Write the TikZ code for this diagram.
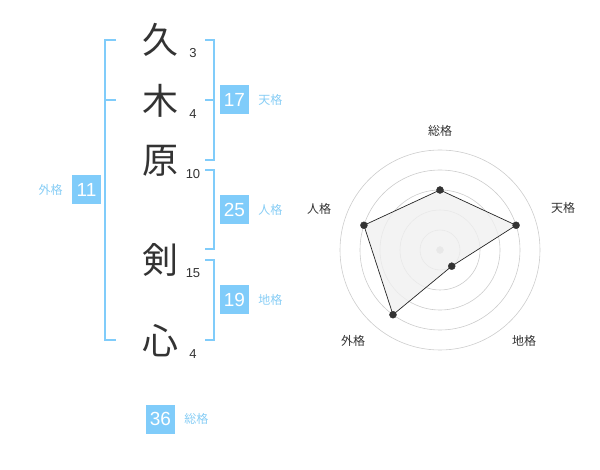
\documentclass[tikz,border=0pt]{standalone}
\usepackage{fontspec}
\setmainfont{Liberation Sans}
\newfontfamily\jpfont{Noto Sans CJK JP}
\usetikzlibrary{calc}
\usetikzlibrary{positioning}
\definecolor{kakublue}{RGB}{128,204,250}
\definecolor{kakutext}{RGB}{135,205,245}
\definecolor{inkgray}{RGB}{51,51,51}
\begin{document}
\begin{tikzpicture}[x=1pt,y=-1pt,
    kanji/.style={font=\jpfont\fontsize{36}{36}\selectfont, text=inkgray, inner sep=0pt},
    strokes/.style={font=\fontsize{13}{13}\selectfont, text=inkgray, inner sep=0pt},
    kakubox/.style={fill=kakublue, text=white, minimum size=29pt, inner sep=0pt, font=\fontsize{19}{19}\selectfont},
    kakulabel/.style={font=\jpfont\fontsize{12}{12}\selectfont, text=kakutext, inner sep=0pt},
    bracket/.style={draw=kakublue, line width=2pt},
    ring/.style={draw=black!20, line width=0.6pt},
    axislabel/.style={font=\jpfont\fontsize{12}{12}\selectfont, text=inkgray, inner sep=0pt}]
    \useasboundingbox (0,0) rectangle (600,470);
    % name and stroke counts
    \foreach \c/\y/\n/\i in {久/40/3/1, 木/101/4/2, 原/161/10/3, 剣/260/15/4, 心/341/4/5} {
        \node[kanji] (k\i) at (160,\y) {\c};
        \node[strokes] (s\i) at (193,\y+13) {\n};
    }
    % brackets
    \draw[bracket] (116,40) -- (105,40) -- (105,340) -- (116,340);
    \draw[bracket] (105,100) -- (116,100);
    \draw[bracket] (205,40) -- (214,40) -- (214,160) -- (205,160);
    \draw[bracket] (205,100) -- (214,100);
    \draw[bracket] (205,170) -- (214,170) -- (214,249) -- (205,249);
    \draw[bracket] (205,260) -- (214,260) -- (214,340) -- (205,340);
    % scores
    \node[kakubox] (ten) at (234.5,100) {17};
    \node[kakulabel, right=9pt of ten] (tenl) {天格};
    \node[kakubox] (jin) at (234.5,210) {25};
    \node[kakulabel, right=9pt of jin] (jinl) {人格};
    \node[kakubox] (chi) at (234.5,300) {19};
    \node[kakulabel, right=9pt of chi] (chil) {地格};
    \node[kakubox] (gai) at (86.5,190) {11};
    \node[kakulabel, left=9pt of gai] (gail) {外格};
    \node[kakubox] (sou) at (160.5,419) {36};
    \node[kakulabel, right=9pt of sou] (soul) {総格};
    % radar
    \coordinate (c) at (440,250);
    \foreach \r in {20,40,60,80,100} {
        \draw[ring] (c) circle (\r);
    }
    \filldraw[black!20] (c) circle (3.5pt);
    \foreach \a/\r/\i in {90/60/1, 18/80/2, -54/20/3, -126/80/4, 162/80/5} {
        \coordinate (p\i) at ($(c)+(-\a:\r)$);
    }
    \filldraw[fill=black!6, fill opacity=0.8, draw=black!85, line width=0.7pt] (p1) -- (p2) -- (p3) -- (p4) -- (p5) -- cycle;
    \foreach \i in {1,...,5} {
        \filldraw[inkgray] (p\i) circle (3.5pt);
    }
    \node[axislabel] (a1) at (440,131) {総格};
    \node[axislabel] (a2) at (563,208) {天格};
    \node[axislabel] (a3) at (524,341) {地格};
    \node[axislabel] (a4) at (353,341) {外格};
    \node[axislabel] (a5) at (319,209) {人格};
\end{tikzpicture}
\end{document}
